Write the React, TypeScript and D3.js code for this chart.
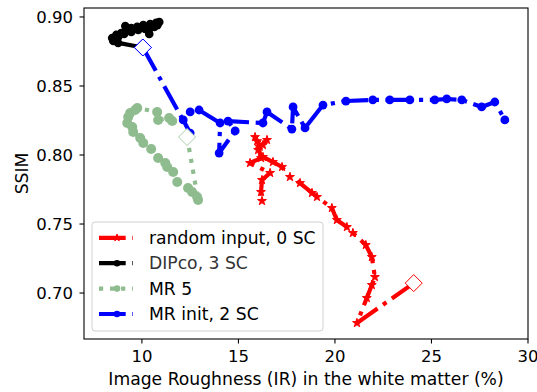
import React from "react";
import * as d3 from "d3";

// ---- data (IR %, SSIM) ----
const redIR = [24.08, 21.14, 21.65, 21.91, 22.07, 21.91, 21.6, 20.93, 20.62, 20.1, 19.84, 19.07, 18.81, 18.19, 17.67, 17.26, 16.79, 16.27, 16.02, 15.86, 16.1, 16.48, 16.27, 15.97, 16.17, 15.6, 16.64, 16.22, 16.17, 16.22];
const redSSIM = [0.7072, 0.6783, 0.6964, 0.7058, 0.7116, 0.7261, 0.7348, 0.7435, 0.7478, 0.7529, 0.7616, 0.7696, 0.7725, 0.7797, 0.7841, 0.7913, 0.7949, 0.7986, 0.8036, 0.813, 0.806, 0.8109, 0.8072, 0.81, 0.7978, 0.7942, 0.787, 0.7819, 0.7732, 0.7667];

const blackIR = [10.05, 8.77, 8.52, 8.46, 8.67, 8.93, 9.19, 9.14, 9.45, 9.76, 10.07, 10.43, 10.74, 10.9, 10.8, 10.64, 10.38, 10.38, 10.17, 9.81, 9.45, 9.08, 8.77, 8.52];
const blackSSIM = [0.8779, 0.8812, 0.8826, 0.8848, 0.887, 0.8884, 0.8906, 0.8935, 0.892, 0.8928, 0.8942, 0.8949, 0.8957, 0.8964, 0.894, 0.8928, 0.8913, 0.8877, 0.8913, 0.8906, 0.8891, 0.8877, 0.8855, 0.8833];

const greenIR = [12.34, 12.91, 12.86, 12.6, 12.39, 11.83, 11.62, 11.31, 11.21, 10.84, 10.48, 10.07, 9.91, 9.55, 9.5, 9.24, 9.29, 9.39, 9.65, 9.76, 10.79, 10.84, 11.41, 11.57];
const greenSSIM = [0.813, 0.7674, 0.7696, 0.7732, 0.7761, 0.7804, 0.7877, 0.7913, 0.7942, 0.7978, 0.8043, 0.8087, 0.8123, 0.8167, 0.8203, 0.8232, 0.8275, 0.8304, 0.8326, 0.8341, 0.8312, 0.8254, 0.8268, 0.8246];

const blueIR = [10.05, 12.5, 12.14, 12.5, 12.96, 14.05, 14.0, 14.83, 14.46, 16.27, 16.48, 17.77, 17.83, 18.45, 19.38, 20.57, 21.96, 22.84, 23.88, 25.17, 25.79, 26.57, 27.6, 28.28, 28.8];
const blueSSIM = [0.8779, 0.8159, 0.8254, 0.8312, 0.8326, 0.8232, 0.8014, 0.8174, 0.8246, 0.8232, 0.8312, 0.8188, 0.8348, 0.8196, 0.8362, 0.8391, 0.8399, 0.8399, 0.8399, 0.8399, 0.8406, 0.8399, 0.8348, 0.8384, 0.8254];

const xTicks = [10, 15, 20, 25, 30];
const yTicks = [0.7, 0.75, 0.8, 0.85, 0.9];
const legendLabels = ["random input, 0 SC", "DIPco, 3 SC", "MR 5", "MR init, 2 SC"];

const W = 537, H = 392;
const FONT = "DejaVu Sans, sans-serif";
const LW = 4.17;
const DASHDOT = `${6.4 * LW} ${1.6 * LW} ${1 * LW} ${1.6 * LW}`;
const DOTTED = `${1 * LW} ${1.65 * LW}`;

type Series = { xs: number[]; ys: number[]; color: string; dash: string; marker: "star" | "circle"; r: number; diamond: string };

const series: Series[] = [
  { xs: redIR, ys: redSSIM, color: "#ff0000", dash: DASHDOT, marker: "star", r: 5, diamond: "#ff0000" },
  { xs: blackIR, ys: blackSSIM, color: "#000000", dash: DASHDOT, marker: "circle", r: 4.3, diamond: "#0000ff" },
  { xs: greenIR, ys: greenSSIM, color: "#8fbc8f", dash: DOTTED, marker: "circle", r: 5, diamond: "#a9cfa9" },
  { xs: blueIR, ys: blueSSIM, color: "#0000ff", dash: DASHDOT, marker: "circle", r: 4.4, diamond: "#0000ff" },
];

export default function App() {
  const x = d3.scaleLinear().domain([7.0, 30.0]).range([84, 528]);
  const y = d3.scaleLinear().domain([0.6667, 0.9065]).range([339, 8]);
  const line = d3.line<[number, number]>().x((d) => x(d[0])).y((d) => y(d[1]));
  const star = d3.symbol().type(d3.symbolStar).size(24)();
  const starSmall = d3.symbol().type(d3.symbolStar).size(16)();
  const diamondPath = (cx: number, cy: number, s: number) => `M${cx},${cy - s}L${cx + s},${cy}L${cx},${cy + s}L${cx - s},${cy}Z`;

  const marker = (s: Series, cx: number, cy: number, key: string | number, small?: boolean) =>
    s.marker === "star" ? (
      <path key={key} d={small ? starSmall : star} transform={`translate(${cx},${cy})`} fill={s.color} stroke={s.color} strokeWidth={1} />
    ) : (
      <circle key={key} cx={cx} cy={cy} r={small ? 3.3 : s.r} fill={s.color} />
    );

  const lx0 = 99, lx1 = 133, legTop = 222, rowH = 25.4, row0 = 237.8;

  return (
    <svg width={W} height={H} style={{ position: "absolute", left: 0, top: 0, background: "#fff" }} fontFamily={FONT}>
      <rect x={0} y={0} width={W} height={H} fill="#fff" />
      {/* series */}
      {series.map((s, i) => {
        const pts = s.xs.map((v, j) => [v, s.ys[j]] as [number, number]);
        return (
          <g key={i}>
            <path d={line(pts) || ""} fill="none" stroke={s.color} strokeWidth={LW} strokeDasharray={s.dash} strokeLinejoin="round" />
            {pts.map((p, j) => marker(s, x(p[0]), y(p[1]), j))}
          </g>
        );
      })}
      {/* start diamonds */}
      {series.map((s, i) => (
        <path key={"d" + i} d={diamondPath(x(s.xs[0]), y(s.ys[0]), 8.5)} fill="#fff" stroke={s.diamond} strokeWidth={1} />
      ))}
      {/* axes frame */}
      <rect x={84} y={8} width={444} height={331} fill="none" stroke="#000" strokeWidth={1.1} />
      {/* x ticks */}
      {xTicks.map((t) => (
        <g key={"x" + t}>
          <line x1={x(t)} x2={x(t)} y1={339} y2={343.5} stroke="#000" strokeWidth={1.1} />
          <text x={x(t)} y={362} textAnchor="middle" fontSize={16.5} fill="#000">{t}</text>
        </g>
      ))}
      {/* y ticks */}
      {yTicks.map((t) => (
        <g key={"y" + t}>
          <line x1={79.5} x2={84} y1={y(t)} y2={y(t)} stroke="#000" strokeWidth={1.1} />
          <text x={73} y={y(t)} dy="0.36em" textAnchor="end" fontSize={16.5} fill="#000">{t.toFixed(2)}</text>
        </g>
      ))}
      <text x={306} y={385} textAnchor="middle" fontSize={17.2} fill="#000">Image Roughness (IR) in the white matter (%)</text>
      <text transform={`translate(28,${173.5}) rotate(-90)`} textAnchor="middle" fontSize={17.2} fill="#000">SSIM</text>
      {/* legend */}
      <rect x={92} y={legTop} width={231} height={109} rx={3} fill="#fff" fillOpacity={0.8} stroke="#d0d0d0" strokeWidth={1} />
      {series.map((s, i) => {
        const cy = row0 + i * rowH;
        return (
          <g key={"l" + i}>
            <line x1={lx0} x2={lx1} y1={cy} y2={cy} stroke={s.color} strokeWidth={LW} strokeDasharray={s.dash} />
            {marker(s, (lx0 + lx1) / 2 + 1, cy, "m", true)}
            <text x={149} y={cy} dy="0.36em" fontSize={17.2} fill={i === 1 ? "#333" : "#000"}>{legendLabels[i]}</text>
          </g>
        );
      })}
    </svg>
  );
}
